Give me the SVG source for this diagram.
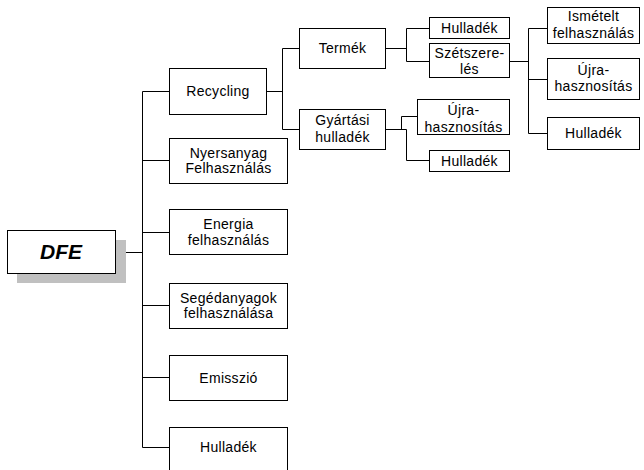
<svg xmlns="http://www.w3.org/2000/svg" width="644" height="470" viewBox="0 0 644 470">
  <style>
    .box { fill: #fff; stroke: #000; stroke-width: 1; }
    .lbl { font-family: "Liberation Sans", Arial, sans-serif; font-size: 14px; letter-spacing: 0.3px; fill: #000; text-anchor: middle; }
    .root { font-family: "Liberation Sans", Arial, sans-serif; font-size: 21px; font-weight: bold; font-style: italic; fill: #000; text-anchor: middle; }
    .wire { fill: none; stroke: #000; stroke-width: 1; }
  </style>
  <rect width="644" height="470" fill="#fff"/>

  <!-- connectors -->
  <g id="connectors" class="wire">
    <!-- root to first level -->
    <path d="M115.5 252.5 H142.5"/>
    <path d="M115.5 273 V283"/>
    <path d="M142.5 91.5 V447.5"/>
    <path d="M142.5 91.5 H169"/>
    <path d="M142.5 160.5 H169"/>
    <path d="M142.5 232.5 H169"/>
    <path d="M142.5 305.5 H169"/>
    <path d="M142.5 377.5 H169"/>
    <path d="M142.5 447.5 H169"/>
    <!-- Recycling -->
    <path d="M267 91.5 H282.5"/>
    <path d="M282.5 48.5 V129.5"/>
    <path d="M282.5 48.5 H299"/>
    <path d="M282.5 129.5 H299"/>
    <!-- Termék -->
    <path d="M386 48.5 H406.5"/>
    <path d="M406.5 28.5 V61.5"/>
    <path d="M406.5 28.5 H429"/>
    <path d="M406.5 61.5 H429"/>
    <!-- Szétszerelés -->
    <path d="M510 61.5 H528.5"/>
    <path d="M528.5 28.5 V133.5"/>
    <path d="M528.5 28.5 H548"/>
    <path d="M528.5 79.5 H548"/>
    <path d="M528.5 133.5 H548"/>
    <!-- Gyártási hulladék -->
    <path d="M386 129.5 H406.5"/>
    <path d="M401.5 129.5 V116.5 H417"/>
    <path d="M406.5 129.5 V160.5 H429"/>
  </g>

  <!-- root node -->
  <g id="n-dfe">
    <rect x="17" y="240" width="109" height="43" fill="#c0c0c0"/>
    <rect class="box" x="7.5" y="230.5" width="108" height="43"/>
    <text class="root" x="61" y="259">DFE</text>
  </g>

  <!-- first level -->
  <g id="n-recycling">
    <rect class="box" x="169.5" y="68.5" width="97" height="46"/>
    <text class="lbl" x="218" y="96">Recycling</text>
  </g>
  <g id="n-nyersanyag">
    <rect class="box" x="169.5" y="138.5" width="118" height="45"/>
    <text class="lbl" x="228.5" y="158">Nyersanyag</text>
    <text class="lbl" x="228.5" y="173">Felhasználás</text>
  </g>
  <g id="n-energia">
    <rect class="box" x="169.5" y="209.5" width="118" height="45"/>
    <text class="lbl" x="228.5" y="229">Energia</text>
    <text class="lbl" x="228.5" y="245">felhasználás</text>
  </g>
  <g id="n-segedanyagok">
    <rect class="box" x="169.5" y="283.5" width="118" height="45"/>
    <text class="lbl" x="228.5" y="303">Segédanyagok</text>
    <text class="lbl" x="228.5" y="318">felhasználása</text>
  </g>
  <g id="n-emisszio">
    <rect class="box" x="169.5" y="355.5" width="118" height="45"/>
    <text class="lbl" x="228.5" y="383">Emisszió</text>
  </g>
  <g id="n-hulladek1">
    <rect class="box" x="169.5" y="427.5" width="118" height="46"/>
    <text class="lbl" x="228.5" y="452">Hulladék</text>
  </g>

  <!-- second level -->
  <g id="n-termek">
    <rect class="box" x="299.5" y="28.5" width="86" height="40"/>
    <text class="lbl" x="342.5" y="53">Termék</text>
  </g>
  <g id="n-gyartasi">
    <rect class="box" x="299.5" y="109.5" width="86" height="40"/>
    <text class="lbl" x="342.5" y="125">Gyártási</text>
    <text class="lbl" x="342.5" y="141.5">hulladék</text>
  </g>

  <!-- third level -->
  <g id="n-hulladek2">
    <rect class="box" x="429.5" y="17.5" width="80" height="21"/>
    <text class="lbl" x="469.5" y="33">Hulladék</text>
  </g>
  <g id="n-szetszereles">
    <rect class="box" x="429.5" y="43.5" width="80" height="34"/>
    <text class="lbl" x="469.5" y="57.5">Szétszere-</text>
    <text class="lbl" x="469.5" y="73.5">lés</text>
  </g>
  <g id="n-ujra2">
    <rect class="box" x="417.5" y="99.5" width="92" height="35"/>
    <text class="lbl" x="463.5" y="115">Újra-</text>
    <text class="lbl" x="463.5" y="131.5">hasznosítás</text>
  </g>
  <g id="n-hulladek3">
    <rect class="box" x="429.5" y="150.5" width="80" height="21"/>
    <text class="lbl" x="469.5" y="165.5">Hulladék</text>
  </g>

  <!-- fourth level -->
  <g id="n-ismetelt">
    <rect class="box" x="547.5" y="7.5" width="92" height="36"/>
    <text class="lbl" x="593.5" y="21">Ismételt</text>
    <text class="lbl" x="593.5" y="37.5">felhasználás</text>
  </g>
  <g id="n-ujra1">
    <rect class="box" x="547.5" y="58.5" width="92" height="41"/>
    <text class="lbl" x="593.5" y="75">Újra-</text>
    <text class="lbl" x="593.5" y="91">hasznosítás</text>
  </g>
  <g id="n-hulladek4">
    <rect class="box" x="547.5" y="117.5" width="92" height="32"/>
    <text class="lbl" x="593.5" y="138">Hulladék</text>
  </g>
</svg>
